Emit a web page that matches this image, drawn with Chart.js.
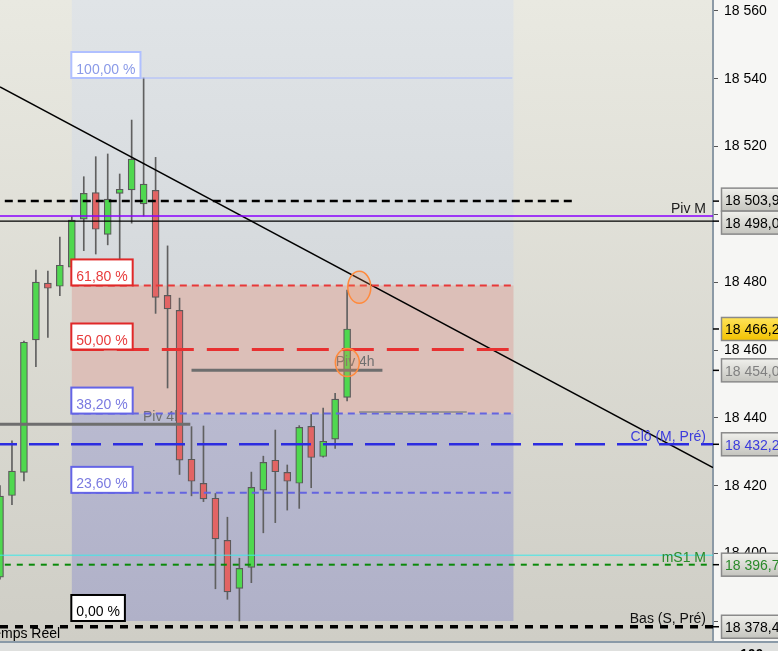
<!DOCTYPE html>
<html>
<head>
<meta charset="utf-8">
<script src="https://cdn.jsdelivr.net/npm/chart.js@4.4.1/dist/chart.umd.min.js"></script>
<style>
  html, body { margin: 0; padding: 0; background: #f6f6f4; overflow: hidden; }
  canvas { display: block; }
</style>
</head>
<body>
<canvas id="chart" width="778" height="651"></canvas>
<script>
// 4h candles, slot index on the x axis
const candleIdx = [0,1,2,3,4,5,6,7,8,9,10,11,12,13,14,15,16,17,18,19,20,21,22,23,24,25,26,27,28,29];
const opens  = [18393.0,18417.1,18423.9,18463.0,18479.7,18478.8,18484.4,18498.6,18506.4,18494.1,18506.2,18507.2,18503.1,18507.1,18476.1,
                18471.7,18427.8,18420.7,18416.3,18403.9,18389.7,18395.9,18418.7,18427.5,18423.9,18420.7,18437.5,18428.6,18433.7,18446.0];
const highs  = [18420.0,18433.2,18462.6,18483.6,18483.3,18493.3,18499.3,18511.1,18517.0,18517.8,18511.9,18527.8,18540.2,18516.8,18490.7,
                18475.3,18437.4,18437.6,18417.7,18410.7,18398.6,18424.0,18428.7,18436.4,18426.1,18437.7,18441.0,18442.9,18447.2,18477.7];
const lows   = [18392.4,18414.4,18421.4,18455.1,18463.7,18476.0,18484.1,18489.3,18488.3,18491.0,18486.8,18497.4,18499.5,18470.8,18448.8,
                18423.3,18417.0,18415.3,18389.6,18386.5,18380.1,18391.4,18406.1,18409.1,18412.8,18413.3,18419.4,18428.4,18431.0,18445.0];
const closes = [18416.9,18424.3,18462.3,18480.0,18478.2,18485.0,18498.3,18506.2,18495.6,18504.5,18507.4,18516.3,18508.9,18475.5,18472.1,
                18427.5,18421.3,18416.1,18404.3,18388.7,18395.6,18419.5,18426.9,18424.1,18421.3,18437.2,18428.3,18433.1,18445.5,18466.2];

// axes
const xMax = 59.57;
const yMin = 18374.2, yMax = 18563.2, yStep = 20;

// fibonacci retracement
const fibHigh = 18540.2, fibLow = 18380.1;
const fibPct = [100, 61.8, 50, 38.2, 23.6, 0];
const fibLabels = ['100,00 %', '61,80 %', '50,00 %', '38,20 %', '23,60 %', '0,00 %'];
const fibFrom = 6.0, fibTo = 42.9;

// named levels
const levelNames  = ['Piv M', 'Clô (M, Pré)', 'mS1 M', 'Bas (S, Pré)'];
const levelValues = [18499.5, 18432.2, 18396.7, 18378.4];
const resistance = 18503.9, closeLine = 18498.0, mS1Line = 18399.5;
const piv4Left = 18438.1, piv4Right = 18454.0, thinLevel = 18441.7;

// trend line
const trendX = [0, 59.57];
const trendY = [18537.6, 18425.3];

// marked points (ellipses)
const markX = [30.02, 29.02];
const markY = [18478.5, 18456.3];

// price boxes on the right axis
const boxValues = [18503.9, 18498.0, 18466.2, 18454.0, 18432.2, 18396.7, 18378.4];
const boxText   = ['18 503,9', '18 498,0', '18 466,2', '18 454,0', '18 432,2', '18 396,7', '18 378,4'];

const FONT = '14px "Liberation Sans", Arial, sans-serif';

function hline(ctx, x0, x1, y, color, w, dash, off) {
  ctx.save();
  ctx.strokeStyle = color;
  ctx.lineWidth = w;
  ctx.setLineDash(dash || []);
  ctx.lineDashOffset = off || 0;
  ctx.beginPath();
  ctx.moveTo(x0, y);
  ctx.lineTo(x1, y);
  ctx.stroke();
  ctx.restore();
}

const fibValue = p => fibLow + (fibHigh - fibLow) * p / 100;

const backdrop = {
  id: 'backdrop',
  beforeDraw(chart) {
    const {ctx, chartArea: a, width, height} = chart;
    const x = chart.scales.x, y = chart.scales.y;
    ctx.save();
    ctx.fillStyle = '#f6f6f4';
    ctx.fillRect(0, 0, width, height);
    let g = ctx.createLinearGradient(0, a.top, 0, a.bottom);
    g.addColorStop(0, '#e9e9e1');
    g.addColorStop(1, '#cfcec6');
    ctx.fillStyle = g;
    ctx.fillRect(a.left, a.top, a.right - a.left, a.bottom - a.top);

    const x0 = x.getPixelForValue(fibFrom), x1 = x.getPixelForValue(fibTo);
    const y618 = y.getPixelForValue(fibValue(61.8));
    const y382 = y.getPixelForValue(fibValue(38.2));
    const y0 = y.getPixelForValue(fibValue(0));
    g = ctx.createLinearGradient(0, a.top, 0, y618);
    g.addColorStop(0, '#e0e4e7');
    g.addColorStop(1, '#d5d9dc');
    ctx.fillStyle = g;
    ctx.fillRect(x0, a.top, x1 - x0, y618 - a.top);
    ctx.fillStyle = '#dcbfb8';
    ctx.fillRect(x0, y618, x1 - x0, y382 - y618);
    g = ctx.createLinearGradient(0, y382, 0, y0);
    g.addColorStop(0, '#b9bad0');
    g.addColorStop(1, '#b0b1c8');
    ctx.fillStyle = g;
    ctx.fillRect(x0, y382, x1 - x0, y0 - y382);

    // bottom strip
    ctx.fillStyle = '#dfe0de';
    ctx.fillRect(0, a.bottom, width, height - a.bottom);
    hline(ctx, 0, width, a.bottom + 1, '#8a9aa8', 2);
    ctx.restore();
  },
  beforeDatasetsDraw(chart) {
    const {ctx} = chart;
    const x = chart.scales.x, y = chart.scales.y;
    ctx.save();
    ctx.font = FONT;
    ctx.fillStyle = '#707070';
    ctx.textBaseline = 'alphabetic';
    ctx.fillText('Piv 4h', x.getPixelForValue(11.95), y.getPixelForValue(piv4Left) - 3);
    ctx.restore();
  },
  afterDatasetsDraw(chart) {
    const {ctx, chartArea: a} = chart;
    const x = chart.scales.x, y = chart.scales.y;
    const px = v => x.getPixelForValue(v), py = v => y.getPixelForValue(v);
    ctx.save();
    ctx.beginPath();
    ctx.rect(a.left, a.top, a.right - a.left, a.bottom - a.top);
    ctx.clip();

    // fib lines
    const fx0 = px(fibFrom), fx1 = px(fibTo);
    hline(ctx, fx0, px(42.8), py(fibValue(100)), '#a8b8ff', 1);
    hline(ctx, fx0, fx1, py(fibValue(61.8)), '#e83838', 2, [7, 5]);
    hline(ctx, fx0, px(42.5), py(fibValue(50)), '#e83030', 3, [32, 13]);
    hline(ctx, fx0, fx1, py(fibValue(38.2)), '#6464e0', 2, [7, 5]);
    hline(ctx, fx0, fx1, py(fibValue(23.6)), '#6464e0', 2, [7, 5]);

    // pivots and levels
    hline(ctx, px(0.4), px(47.9), py(resistance), '#000000', 2.5, [8, 5]);
    hline(ctx, a.left, a.right, py(levelValues[0]), '#8a00ff', 1.5);
    hline(ctx, a.left, a.right, py(closeLine), '#000000', 1.2);
    hline(ctx, a.left, a.right, py(levelValues[1]), '#2c2ce0', 2.5, [30, 12], 13);
    hline(ctx, a.left, a.right, py(mS1Line), '#3ee8e8', 1);
    hline(ctx, px(0.4), a.right, py(levelValues[2]), '#0a8a0a', 2, [6, 6]);
    hline(ctx, a.left, a.right, py(levelValues[3]), '#000000', 3.5, [8, 7]);
    hline(ctx, a.left, px(15.9), py(piv4Left), '#6e6e6e', 3);
    hline(ctx, px(16.0), px(31.95), py(piv4Right), '#6e6e6e', 3);
    hline(ctx, px(30.0), px(39.0), py(thinLevel), '#8a8a8a', 1.5);

    // level names
    ctx.font = FONT;
    ctx.textAlign = 'right';
    const lx = a.right - 7;
    const nameColors = ['#202020', '#3c3cdc', '#2a8a2a', '#101010'];
    const nameOffsets = [-3, -3, -3, -4];
    levelNames.forEach((n, i) => {
      ctx.fillStyle = nameColors[i];
      ctx.fillText(n, lx, py(levelValues[i]) + nameOffsets[i]);
    });
    ctx.textAlign = 'left';
    ctx.fillStyle = '#707070';
    ctx.fillText('Piv 4h', px(28.05), py(piv4Right) - 4);

    // marked points
    ctx.lineWidth = 1.5;
    ctx.strokeStyle = '#ff8a3c';
    ctx.fillStyle = 'rgba(255,150,90,0.22)';
    const radii = [[11.5, 16], [12, 14]];
    markX.forEach((mx, i) => {
      ctx.beginPath();
      ctx.ellipse(px(mx), py(markY[i]), radii[i][0], radii[i][1], 0, 0, Math.PI * 2);
      ctx.fill();
      ctx.stroke();
    });

    // fib labels
    const borders = ['#b0c0ff', '#e02828', '#e02828', '#6464e6', '#6464e6', '#000000'];
    const texts   = ['#8a9ae8', '#e83c3c', '#e83c3c', '#7a7ae0', '#7a7ae0', '#000000'];
    fibPct.forEach((p, i) => {
      const by = py(fibValue(p));
      const w = ctx.measureText(fibLabels[i]).width + 10;
      const bx = fx0 - 0.5;
      ctx.fillStyle = '#ffffff';
      ctx.fillRect(bx, by - 26, w, 26);
      ctx.strokeStyle = borders[i];
      ctx.lineWidth = 2;
      ctx.strokeRect(bx, by - 26, w, 26);
      ctx.fillStyle = texts[i];
      ctx.fillText(fibLabels[i], bx + 5, by - 4.5);
    });

    // clipped feed title
    ctx.fillStyle = '#000000';
    ctx.fillText('Temps Réel', 1 - ctx.measureText('Te').width, a.bottom - 3);
    ctx.restore();
  },
  afterDraw(chart) {
    const {ctx, chartArea: a, width} = chart;
    const y = chart.scales.y;
    ctx.save();
    ctx.font = FONT;
    const centers = boxValues.map(v => y.getPixelForValue(v));
    for (let i = 1; i < centers.length; i++) {
      const gap = centers[i] - centers[i - 1];
      if (gap < 23) {
        const d = 23 - gap;
        centers[i - 1] -= d / 2;
        centers[i] += d / 2;
      }
    }
    const textColors = ['#000', '#000', '#000', '#808080', '#3c3cdc', '#2a8a2a', '#000'];
    boxValues.forEach((v, i) => {
      const c = centers[i];
      const top = c - 11.5;
      const g = ctx.createLinearGradient(0, top, 0, top + 23);
      if (i === 2) {
        g.addColorStop(0, '#ffe45a');
        g.addColorStop(1, '#f2c200');
      } else {
        g.addColorStop(0, '#f0f0ec');
        g.addColorStop(1, '#c4c4be');
      }
      ctx.fillStyle = g;
      ctx.fillRect(a.right + 8.5, top, width, 23);
      ctx.strokeStyle = '#8a8a8a';
      ctx.lineWidth = 1.5;
      ctx.strokeRect(a.right + 8.5, top, width, 23);
      ctx.fillStyle = textColors[i];
      ctx.fillText(boxText[i], a.right + 12, c + 5.5);
      hline(ctx, a.right, a.right + 6, y.getPixelForValue(v), '#000', 1.5);
    });
    ctx.font = 'bold ' + FONT;
    ctx.fillStyle = '#000';
    ctx.fillText('100', a.right + 27, a.bottom + 18);
    ctx.restore();
  }
};

const bodyColors = candleIdx.map(i => closes[i] >= opens[i] ? '#4fd84f' : '#e26464');

new Chart(document.getElementById('chart').getContext('2d'), {
  type: 'bar',
  data: {
    datasets: [
      {
        type: 'line',
        order: 0,
        data: trendX.map((tx, i) => ({x: tx, y: trendY[i]})),
        borderColor: '#000000',
        borderWidth: 1.5,
        pointRadius: 0,
        fill: false
      },
      {
        order: 1,
        grouped: false,
        data: candleIdx.map(i => ({x: i, y: [opens[i], closes[i]]})),
        backgroundColor: bodyColors,
        borderColor: '#5a5a5a',
        borderWidth: 1.2,
        borderSkipped: false,
        barThickness: 7
      },
      {
        order: 2,
        grouped: false,
        data: candleIdx.map(i => ({x: i, y: [lows[i], highs[i]]})),
        backgroundColor: '#606060',
        borderWidth: 0,
        barThickness: 1
      }
    ]
  },
  options: {
    responsive: false,
    animation: false,
    devicePixelRatio: 1,
    layout: { padding: { left: 0, right: 0, top: 0, bottom: 10 } },
    plugins: { legend: { display: false }, tooltip: { enabled: false } },
    scales: {
      x: { type: 'linear', min: 0, max: xMax, offset: false, display: false },
      y: {
        type: 'linear',
        position: 'right',
        min: yMin,
        max: yMax,
        afterFit: s => { s.width = 65; s.paddingTop = 0; s.paddingBottom = 0; },
        grid: { drawOnChartArea: false, drawTicks: true, tickLength: 5, color: '#555555' },
        border: { display: true, color: '#8c9aa6', width: 2 },
        ticks: {
          stepSize: yStep,
          includeBounds: false,
          padding: 6,
          color: '#000000',
          font: { family: '"Liberation Sans", Arial, sans-serif', size: 14 },
          callback: v => { const s = String(Math.round(v)); return s.slice(0, s.length - 3) + ' ' + s.slice(-3); }
        }
      }
    }
  },
  plugins: [backdrop]
});
</script>
</body>
</html>
